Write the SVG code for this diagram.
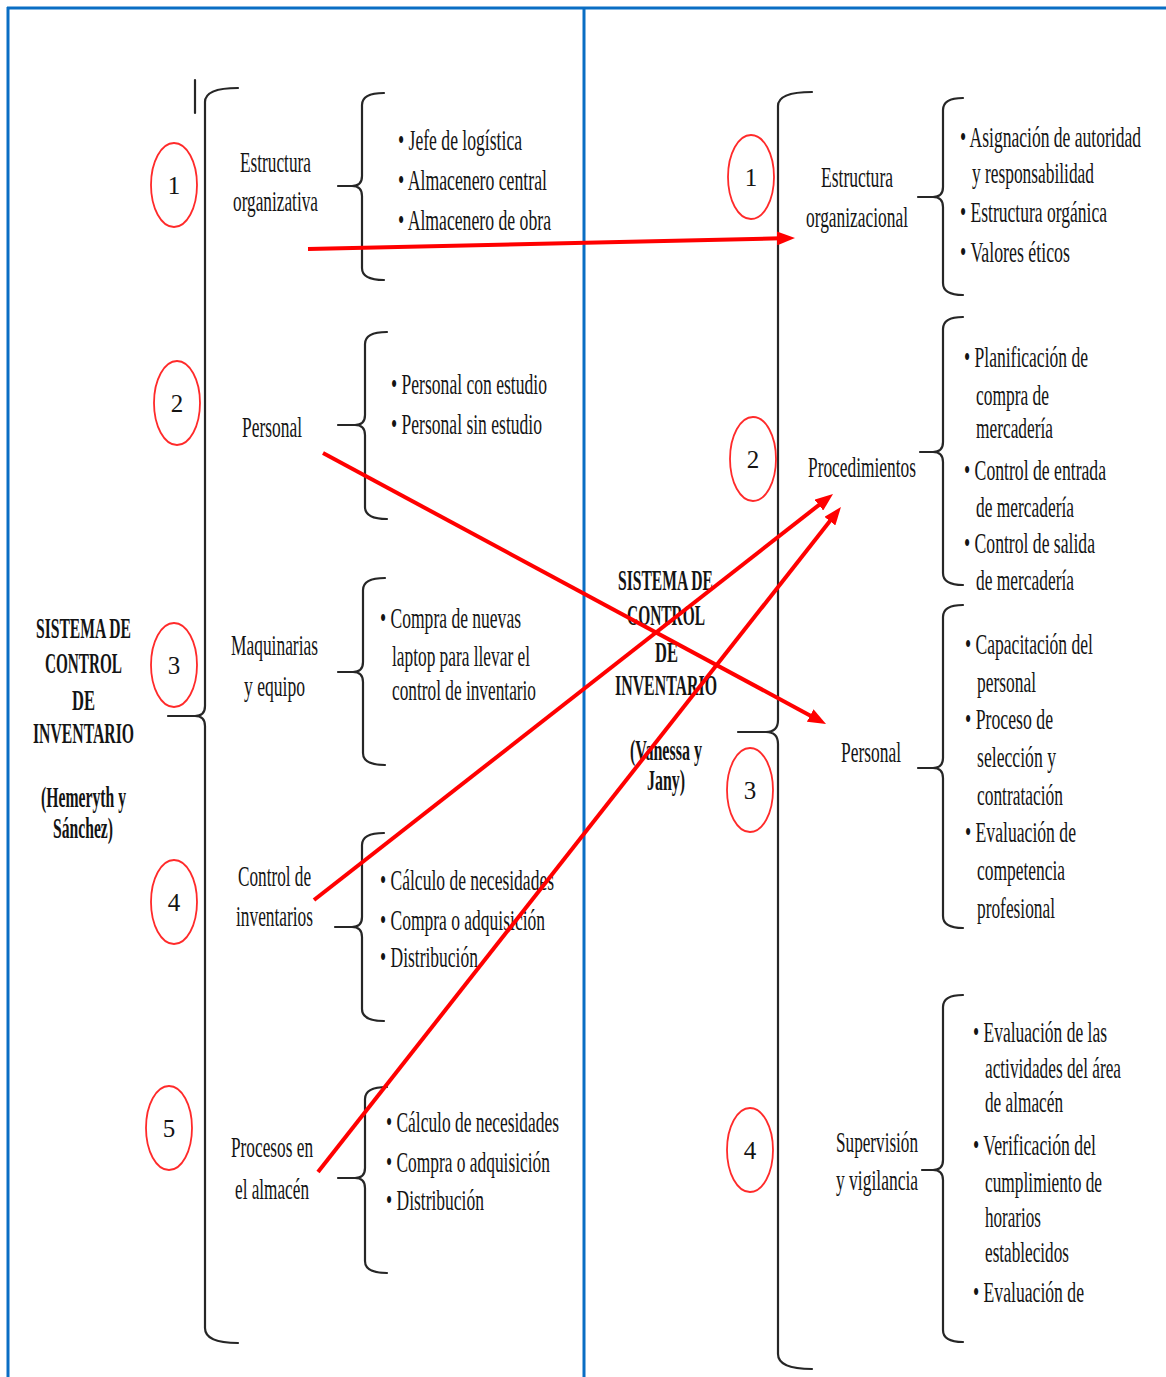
<svg xmlns="http://www.w3.org/2000/svg" width="1166" height="1377" viewBox="0 0 1166 1377">
  <style>
    .t { font-family: "Liberation Serif", "Times New Roman", serif; font-size: 30px; fill: #141414; }
    .b { font-weight: bold; }
    .n { font-family: "Liberation Serif", "Times New Roman", serif; font-size: 25px; fill: #141414; text-anchor: middle; }
    .frame { stroke: #0a6ec4; stroke-width: 3; fill: none; }
    .brace { stroke: #262626; stroke-width: 2.2; fill: none; stroke-linecap: round; stroke-linejoin: round; }
    .num { stroke: #ff2a2a; stroke-width: 1.8; fill: none; }
    .arrow { stroke: #ff0000; stroke-width: 4; fill: none; marker-end: url(#head); }
  </style>
  <defs>
    <marker id="head" markerUnits="userSpaceOnUse" markerWidth="18" markerHeight="14" refX="4" refY="7" orient="auto">
      <path d="M0,0 L18,7 L0,14 z" fill="#ff0000"/>
    </marker>
  </defs>

  <rect width="1166" height="1377" fill="#ffffff"/>

  <!-- page frame and column divider -->
  <g id="frame">
    <line class="frame" x1="7" y1="8" x2="1166" y2="8"/>
    <line class="frame" x1="8" y1="7" x2="8" y2="1377"/>
    <line class="frame" x1="584" y1="8" x2="584" y2="1377"/>
  </g>

  <!-- condensed lettering: each line is narrowed to 0.6 of its width -->

  <!-- ===== left column: Hemeryth y Sánchez ===== -->
  <g id="root-left">
    <text class="t b" transform="matrix(0.6 0 0 1 36 638)" textLength="158.3" lengthAdjust="spacingAndGlyphs">SISTEMA DE</text>
    <text class="t b" transform="matrix(0.6 0 0 1 45 673)" textLength="128.3" lengthAdjust="spacingAndGlyphs">CONTROL</text>
    <text class="t b" transform="matrix(0.6 0 0 1 72 710)" textLength="38.3" lengthAdjust="spacingAndGlyphs">DE</text>
    <text class="t b" transform="matrix(0.6 0 0 1 33 743)" textLength="168.3" lengthAdjust="spacingAndGlyphs">INVENTARIO</text>
    <text class="t b" transform="matrix(0.6 0 0 1 41 807)" textLength="141.7" lengthAdjust="spacingAndGlyphs">(Hemeryth y</text>
    <text class="t b" transform="matrix(0.6 0 0 1 53 838)" textLength="100" lengthAdjust="spacingAndGlyphs">Sánchez)</text>
    <line class="brace" x1="195" y1="80" x2="195" y2="113"/>
    <path class="brace" d="M238 88 Q205 88 205 102 L205 706 Q205 716 195 716 Q205 716 205 726 L205 1328 Q205 1343 238 1343 M168 716 L195 716"/>
  </g>

  <g id="left-1">
    <ellipse class="num" cx="174" cy="185" rx="23" ry="42"/>
    <text class="n" x="174" y="194">1</text>
    <text class="t" transform="matrix(0.6 0 0 1 240 172)" textLength="118.3" lengthAdjust="spacingAndGlyphs">Estructura</text>
    <text class="t" transform="matrix(0.6 0 0 1 233 211)" textLength="141.7" lengthAdjust="spacingAndGlyphs">organizativa</text>
    <path class="brace" d="M384 93 Q362 93 362 105 L362 176 Q362 186 352 186 Q362 186 362 196 L362 268 Q362 280 384 280 M338 186 L352 186"/>
    <text class="t" transform="matrix(0.6 0 0 1 398 150)" textLength="206.7" lengthAdjust="spacingAndGlyphs">• Jefe de logística</text>
    <text class="t" transform="matrix(0.6 0 0 1 398 190)" textLength="248.3" lengthAdjust="spacingAndGlyphs">• Almacenero central</text>
    <text class="t" transform="matrix(0.6 0 0 1 398 230)" textLength="255" lengthAdjust="spacingAndGlyphs">• Almacenero de obra</text>
  </g>

  <g id="left-2">
    <ellipse class="num" cx="177" cy="403" rx="23" ry="42"/>
    <text class="n" x="177" y="412">2</text>
    <text class="t" transform="matrix(0.6 0 0 1 242 437)" textLength="100" lengthAdjust="spacingAndGlyphs">Personal</text>
    <path class="brace" d="M387 332 Q365 332 365 344 L365 415 Q365 425 355 425 Q365 425 365 435 L365 507 Q365 519 387 519 M338 425 L355 425"/>
    <text class="t" transform="matrix(0.6 0 0 1 391 394)" textLength="260" lengthAdjust="spacingAndGlyphs">• Personal con estudio</text>
    <text class="t" transform="matrix(0.6 0 0 1 391 434)" textLength="251.7" lengthAdjust="spacingAndGlyphs">• Personal sin estudio</text>
  </g>

  <g id="left-3">
    <ellipse class="num" cx="174" cy="665" rx="23" ry="42"/>
    <text class="n" x="174" y="674">3</text>
    <text class="t" transform="matrix(0.6 0 0 1 231 655)" textLength="145" lengthAdjust="spacingAndGlyphs">Maquinarias</text>
    <text class="t" transform="matrix(0.6 0 0 1 244 696)" textLength="101.7" lengthAdjust="spacingAndGlyphs">y equipo</text>
    <path class="brace" d="M385 578 Q363 578 363 590 L363 662 Q363 672 353 672 Q363 672 363 682 L363 753 Q363 765 385 765 M338 672 L353 672"/>
    <text class="t" transform="matrix(0.6 0 0 1 380 628)" textLength="235" lengthAdjust="spacingAndGlyphs">• Compra de nuevas</text>
    <text class="t" transform="matrix(0.6 0 0 1 392 666)" textLength="230" lengthAdjust="spacingAndGlyphs">laptop para llevar el</text>
    <text class="t" transform="matrix(0.6 0 0 1 392 700)" textLength="240" lengthAdjust="spacingAndGlyphs">control de inventario</text>
  </g>

  <g id="left-4">
    <ellipse class="num" cx="174" cy="902" rx="23" ry="42"/>
    <text class="n" x="174" y="911">4</text>
    <text class="t" transform="matrix(0.6 0 0 1 238 886)" textLength="121.7" lengthAdjust="spacingAndGlyphs">Control de</text>
    <text class="t" transform="matrix(0.6 0 0 1 236 926)" textLength="128.3" lengthAdjust="spacingAndGlyphs">inventarios</text>
    <path class="brace" d="M384 833 Q362 833 362 845 L362 917 Q362 927 352 927 Q362 927 362 937 L362 1009 Q362 1021 384 1021 M335 927 L352 927"/>
    <text class="t" transform="matrix(0.6 0 0 1 380 890)" textLength="290" lengthAdjust="spacingAndGlyphs">• Cálculo de necesidades</text>
    <text class="t" transform="matrix(0.6 0 0 1 380 930)" textLength="275" lengthAdjust="spacingAndGlyphs">• Compra o adquisición</text>
    <text class="t" transform="matrix(0.6 0 0 1 380 967)" textLength="163.3" lengthAdjust="spacingAndGlyphs">• Distribución</text>
  </g>

  <g id="left-5">
    <ellipse class="num" cx="169" cy="1128" rx="23" ry="42"/>
    <text class="n" x="169" y="1137">5</text>
    <text class="t" transform="matrix(0.6 0 0 1 231 1157)" textLength="136.7" lengthAdjust="spacingAndGlyphs">Procesos en</text>
    <text class="t" transform="matrix(0.6 0 0 1 235 1199)" textLength="123.3" lengthAdjust="spacingAndGlyphs">el almacén</text>
    <path class="brace" d="M387 1087 Q365 1087 365 1099 L365 1168 Q365 1178 355 1178 Q365 1178 365 1188 L365 1261 Q365 1273 387 1273 M338 1178 L355 1178"/>
    <text class="t" transform="matrix(0.6 0 0 1 386 1132)" textLength="288.3" lengthAdjust="spacingAndGlyphs">• Cálculo de necesidades</text>
    <text class="t" transform="matrix(0.6 0 0 1 386 1172)" textLength="273.3" lengthAdjust="spacingAndGlyphs">• Compra o adquisición</text>
    <text class="t" transform="matrix(0.6 0 0 1 386 1210)" textLength="163.3" lengthAdjust="spacingAndGlyphs">• Distribución</text>
  </g>

  <!-- ===== right column: Vanessa y Jany ===== -->
  <g id="root-right">
    <text class="t b" transform="matrix(0.6 0 0 1 618 590)" textLength="158.3" lengthAdjust="spacingAndGlyphs">SISTEMA DE</text>
    <text class="t b" transform="matrix(0.6 0 0 1 627 625)" textLength="130" lengthAdjust="spacingAndGlyphs">CONTROL</text>
    <text class="t b" transform="matrix(0.6 0 0 1 655 662)" textLength="38.3" lengthAdjust="spacingAndGlyphs">DE</text>
    <text class="t b" transform="matrix(0.6 0 0 1 615 695)" textLength="170" lengthAdjust="spacingAndGlyphs">INVENTARIO</text>
    <text class="t b" transform="matrix(0.6 0 0 1 630 760)" textLength="120" lengthAdjust="spacingAndGlyphs">(Vanessa y</text>
    <text class="t b" transform="matrix(0.6 0 0 1 647 790)" textLength="63.3" lengthAdjust="spacingAndGlyphs">Jany)</text>
    <path class="brace" d="M812 92 Q778 92 778 106 L778 720 Q778 732 766 732 Q778 732 778 744 L778 1354 Q778 1369 812 1369 M738 732 L766 732"/>
  </g>

  <g id="right-1">
    <ellipse class="num" cx="751" cy="177" rx="23" ry="42"/>
    <text class="n" x="751" y="186">1</text>
    <text class="t" transform="matrix(0.6 0 0 1 821 187)" textLength="120" lengthAdjust="spacingAndGlyphs">Estructura</text>
    <text class="t" transform="matrix(0.6 0 0 1 806 227)" textLength="170" lengthAdjust="spacingAndGlyphs">organizacional</text>
    <path class="brace" d="M963 98 Q943 98 943 110 L943 187 Q943 197 933 197 Q943 197 943 207 L943 283 Q943 295 963 295 M918 197 L933 197"/>
    <text class="t" transform="matrix(0.6 0 0 1 960 147)" textLength="301.7" lengthAdjust="spacingAndGlyphs">• Asignación de autoridad</text>
    <text class="t" transform="matrix(0.6 0 0 1 972 183)" textLength="203.3" lengthAdjust="spacingAndGlyphs">y responsabilidad</text>
    <text class="t" transform="matrix(0.6 0 0 1 960 222)" textLength="245" lengthAdjust="spacingAndGlyphs">• Estructura orgánica</text>
    <text class="t" transform="matrix(0.6 0 0 1 960 262)" textLength="183.3" lengthAdjust="spacingAndGlyphs">• Valores éticos</text>
  </g>

  <g id="right-2">
    <ellipse class="num" cx="753" cy="459" rx="23" ry="42"/>
    <text class="n" x="753" y="468">2</text>
    <text class="t" transform="matrix(0.6 0 0 1 808 477)" textLength="180" lengthAdjust="spacingAndGlyphs">Procedimientos</text>
    <path class="brace" d="M963 317 Q943 317 943 329 L943 442 Q943 452 933 452 Q943 452 943 462 L943 573 Q943 585 963 585 M920 452 L933 452"/>
    <text class="t" transform="matrix(0.6 0 0 1 964 367)" textLength="206.7" lengthAdjust="spacingAndGlyphs">• Planificación de</text>
    <text class="t" transform="matrix(0.6 0 0 1 976 405)" textLength="121.7" lengthAdjust="spacingAndGlyphs">compra de</text>
    <text class="t" transform="matrix(0.6 0 0 1 976 438)" textLength="128.3" lengthAdjust="spacingAndGlyphs">mercadería</text>
    <text class="t" transform="matrix(0.6 0 0 1 964 480)" textLength="236.7" lengthAdjust="spacingAndGlyphs">• Control de entrada</text>
    <text class="t" transform="matrix(0.6 0 0 1 976 517)" textLength="163.3" lengthAdjust="spacingAndGlyphs">de mercadería</text>
    <text class="t" transform="matrix(0.6 0 0 1 964 553)" textLength="218.3" lengthAdjust="spacingAndGlyphs">• Control de salida</text>
    <text class="t" transform="matrix(0.6 0 0 1 976 590)" textLength="163.3" lengthAdjust="spacingAndGlyphs">de mercadería</text>
  </g>

  <g id="right-3">
    <ellipse class="num" cx="750" cy="790" rx="23" ry="42"/>
    <text class="n" x="750" y="799">3</text>
    <text class="t" transform="matrix(0.6 0 0 1 841 762)" textLength="100" lengthAdjust="spacingAndGlyphs">Personal</text>
    <path class="brace" d="M963 605 Q943 605 943 617 L943 758 Q943 768 933 768 Q943 768 943 778 L943 916 Q943 928 963 928 M918 768 L933 768"/>
    <text class="t" transform="matrix(0.6 0 0 1 965 654)" textLength="213.3" lengthAdjust="spacingAndGlyphs">• Capacitación del</text>
    <text class="t" transform="matrix(0.6 0 0 1 977 692)" textLength="98.3" lengthAdjust="spacingAndGlyphs">personal</text>
    <text class="t" transform="matrix(0.6 0 0 1 965 729)" textLength="146.7" lengthAdjust="spacingAndGlyphs">• Proceso de</text>
    <text class="t" transform="matrix(0.6 0 0 1 977 767)" textLength="131.7" lengthAdjust="spacingAndGlyphs">selección y</text>
    <text class="t" transform="matrix(0.6 0 0 1 977 805)" textLength="143.3" lengthAdjust="spacingAndGlyphs">contratación</text>
    <text class="t" transform="matrix(0.6 0 0 1 965 842)" textLength="185" lengthAdjust="spacingAndGlyphs">• Evaluación de</text>
    <text class="t" transform="matrix(0.6 0 0 1 977 880)" textLength="146.7" lengthAdjust="spacingAndGlyphs">competencia</text>
    <text class="t" transform="matrix(0.6 0 0 1 977 918)" textLength="130" lengthAdjust="spacingAndGlyphs">profesional</text>
  </g>

  <g id="right-4">
    <ellipse class="num" cx="750" cy="1150" rx="23" ry="42"/>
    <text class="n" x="750" y="1159">4</text>
    <text class="t" transform="matrix(0.6 0 0 1 836 1152)" textLength="136.7" lengthAdjust="spacingAndGlyphs">Supervisión</text>
    <text class="t" transform="matrix(0.6 0 0 1 836 1190)" textLength="136.7" lengthAdjust="spacingAndGlyphs">y vigilancia</text>
    <path class="brace" d="M963 995 Q943 995 943 1007 L943 1160 Q943 1170 933 1170 Q943 1170 943 1180 L943 1330 Q943 1342 963 1342 M922 1170 L933 1170"/>
    <text class="t" transform="matrix(0.6 0 0 1 973 1042)" textLength="223.3" lengthAdjust="spacingAndGlyphs">• Evaluación de las</text>
    <text class="t" transform="matrix(0.6 0 0 1 985 1078)" textLength="226.7" lengthAdjust="spacingAndGlyphs">actividades del área</text>
    <text class="t" transform="matrix(0.6 0 0 1 985 1112)" textLength="130" lengthAdjust="spacingAndGlyphs">de almacén</text>
    <text class="t" transform="matrix(0.6 0 0 1 973 1155)" textLength="205" lengthAdjust="spacingAndGlyphs">• Verificación del</text>
    <text class="t" transform="matrix(0.6 0 0 1 985 1192)" textLength="195" lengthAdjust="spacingAndGlyphs">cumplimiento de</text>
    <text class="t" transform="matrix(0.6 0 0 1 985 1227)" textLength="93.3" lengthAdjust="spacingAndGlyphs">horarios</text>
    <text class="t" transform="matrix(0.6 0 0 1 985 1262)" textLength="140" lengthAdjust="spacingAndGlyphs">establecidos</text>
    <text class="t" transform="matrix(0.6 0 0 1 973 1302)" textLength="185" lengthAdjust="spacingAndGlyphs">• Evaluación de</text>
  </g>

  <!-- red links between the two classifications -->
  <g id="connectors">
    <line class="arrow" x1="308" y1="249" x2="781" y2="238.3"/>
    <line class="arrow" x1="323" y1="453" x2="813.7" y2="717.4"/>
    <line class="arrow" x1="314" y1="900" x2="822" y2="502.6"/>
    <line class="arrow" x1="318" y1="1172" x2="832.3" y2="518"/>
  </g>
</svg>
